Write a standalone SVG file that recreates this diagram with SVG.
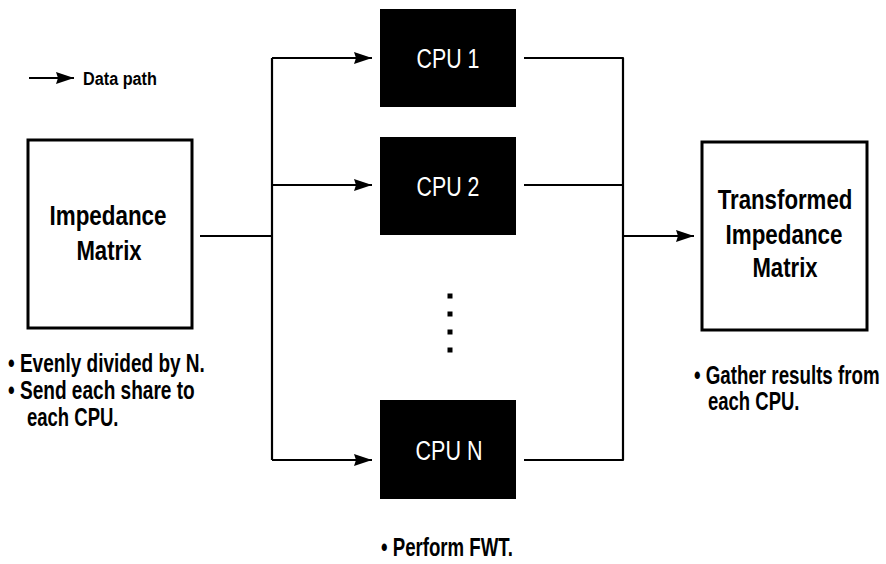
<svg xmlns="http://www.w3.org/2000/svg" width="886" height="564" viewBox="0 0 886 564">
  <style>
    .bg { fill: #ffffff; }
    .box { fill: #ffffff; stroke: #000000; stroke-width: 3; }
    .cpu { fill: #000000; stroke: none; }
    .lbl { font-family: "Liberation Sans", Arial, sans-serif; font-weight: bold; font-size: 27px; fill: #000000; text-anchor: middle; }
    .cpulbl { font-family: "Liberation Sans", Arial, sans-serif; font-weight: normal; font-size: 28px; fill: #ffffff; text-anchor: middle; }
    .note { font-family: "Liberation Sans", Arial, sans-serif; font-weight: bold; font-size: 25px; fill: #000000; }
    .legend { font-family: "Liberation Sans", Arial, sans-serif; font-weight: bold; font-size: 19px; fill: #000000; }
    .wire { fill: none; stroke: #000000; stroke-width: 2.2; stroke-linejoin: round; }
    .dot { fill: #000000; }
  </style>
  <defs>
    <marker id="arrow" markerUnits="userSpaceOnUse" markerWidth="19" markerHeight="12" refX="18" refY="6" orient="auto">
      <path d="M0,0 L18,6 L0,12 L2,6 z" fill="#000000"/>
    </marker>
  </defs>
  <rect class="bg" x="0" y="0" width="886" height="564"/>

  <g id="legend">
    <line class="wire" x1="29" y1="78" x2="74" y2="78" marker-end="url(#arrow)"/>
    <text class="legend" transform="translate(83,85) scale(0.855,1)">Data path</text>
  </g>

  <g id="impedance-matrix">
    <rect class="box" x="28" y="140" width="164" height="188"/>
    <text class="lbl" transform="translate(108,225) scale(0.83,1)">Impedance</text>
    <text class="lbl" transform="translate(109,260) scale(0.82,1)">Matrix</text>
  </g>

  <g id="note-left">
    <text class="note" transform="translate(8,372) scale(0.761,1)">• Evenly divided by N.</text>
    <text class="note" transform="translate(8,399) scale(0.763,1)">• Send each share to</text>
    <text class="note" transform="translate(27,426) scale(0.74,1)">each CPU.</text>
  </g>

  <g id="cpu1">
    <rect class="cpu" x="380" y="9" width="136" height="98"/>
    <text class="cpulbl" transform="translate(448,68) scale(0.764,1)">CPU 1</text>
  </g>

  <g id="cpu2">
    <rect class="cpu" x="380" y="137" width="136" height="98"/>
    <text class="cpulbl" transform="translate(448,196) scale(0.764,1)">CPU 2</text>
  </g>

  <g id="ellipsis">
    <rect class="dot" x="447.5" y="293.5" width="5" height="5"/>
    <rect class="dot" x="447.5" y="311.5" width="5" height="5"/>
    <rect class="dot" x="447.5" y="329.5" width="5" height="5"/>
    <rect class="dot" x="447.5" y="347.5" width="5" height="5"/>
  </g>

  <g id="cpuN">
    <rect class="cpu" x="380" y="400" width="136" height="99"/>
    <text class="cpulbl" transform="translate(449,460) scale(0.769,1)">CPU N</text>
  </g>

  <g id="note-bottom">
    <text class="note" transform="translate(381,556) scale(0.746,1)">• Perform FWT.</text>
  </g>

  <g id="transformed-matrix">
    <rect class="box" x="702" y="142" width="165" height="188"/>
    <text class="lbl" transform="translate(785,209) scale(0.824,1)">Transformed</text>
    <text class="lbl" transform="translate(784,244) scale(0.83,1)">Impedance</text>
    <text class="lbl" transform="translate(785,277) scale(0.82,1)">Matrix</text>
  </g>

  <g id="note-right">
    <text class="note" transform="translate(694,384) scale(0.75,1)">• Gather results from</text>
    <text class="note" transform="translate(708,410) scale(0.74,1)">each CPU.</text>
  </g>

  <g id="connectors">
    <path class="wire" d="M200,236 H272"/>
    <path class="wire" d="M272,58 V460"/>
    <path class="wire" d="M272,58 H372" marker-end="url(#arrow)"/>
    <path class="wire" d="M272,185 H372" marker-end="url(#arrow)"/>
    <path class="wire" d="M272,460 H372" marker-end="url(#arrow)"/>
    <path class="wire" d="M524,58 H623 V460 H524"/>
    <path class="wire" d="M524,185 H623"/>
    <path class="wire" d="M623,236 H694" marker-end="url(#arrow)"/>
  </g>
</svg>
